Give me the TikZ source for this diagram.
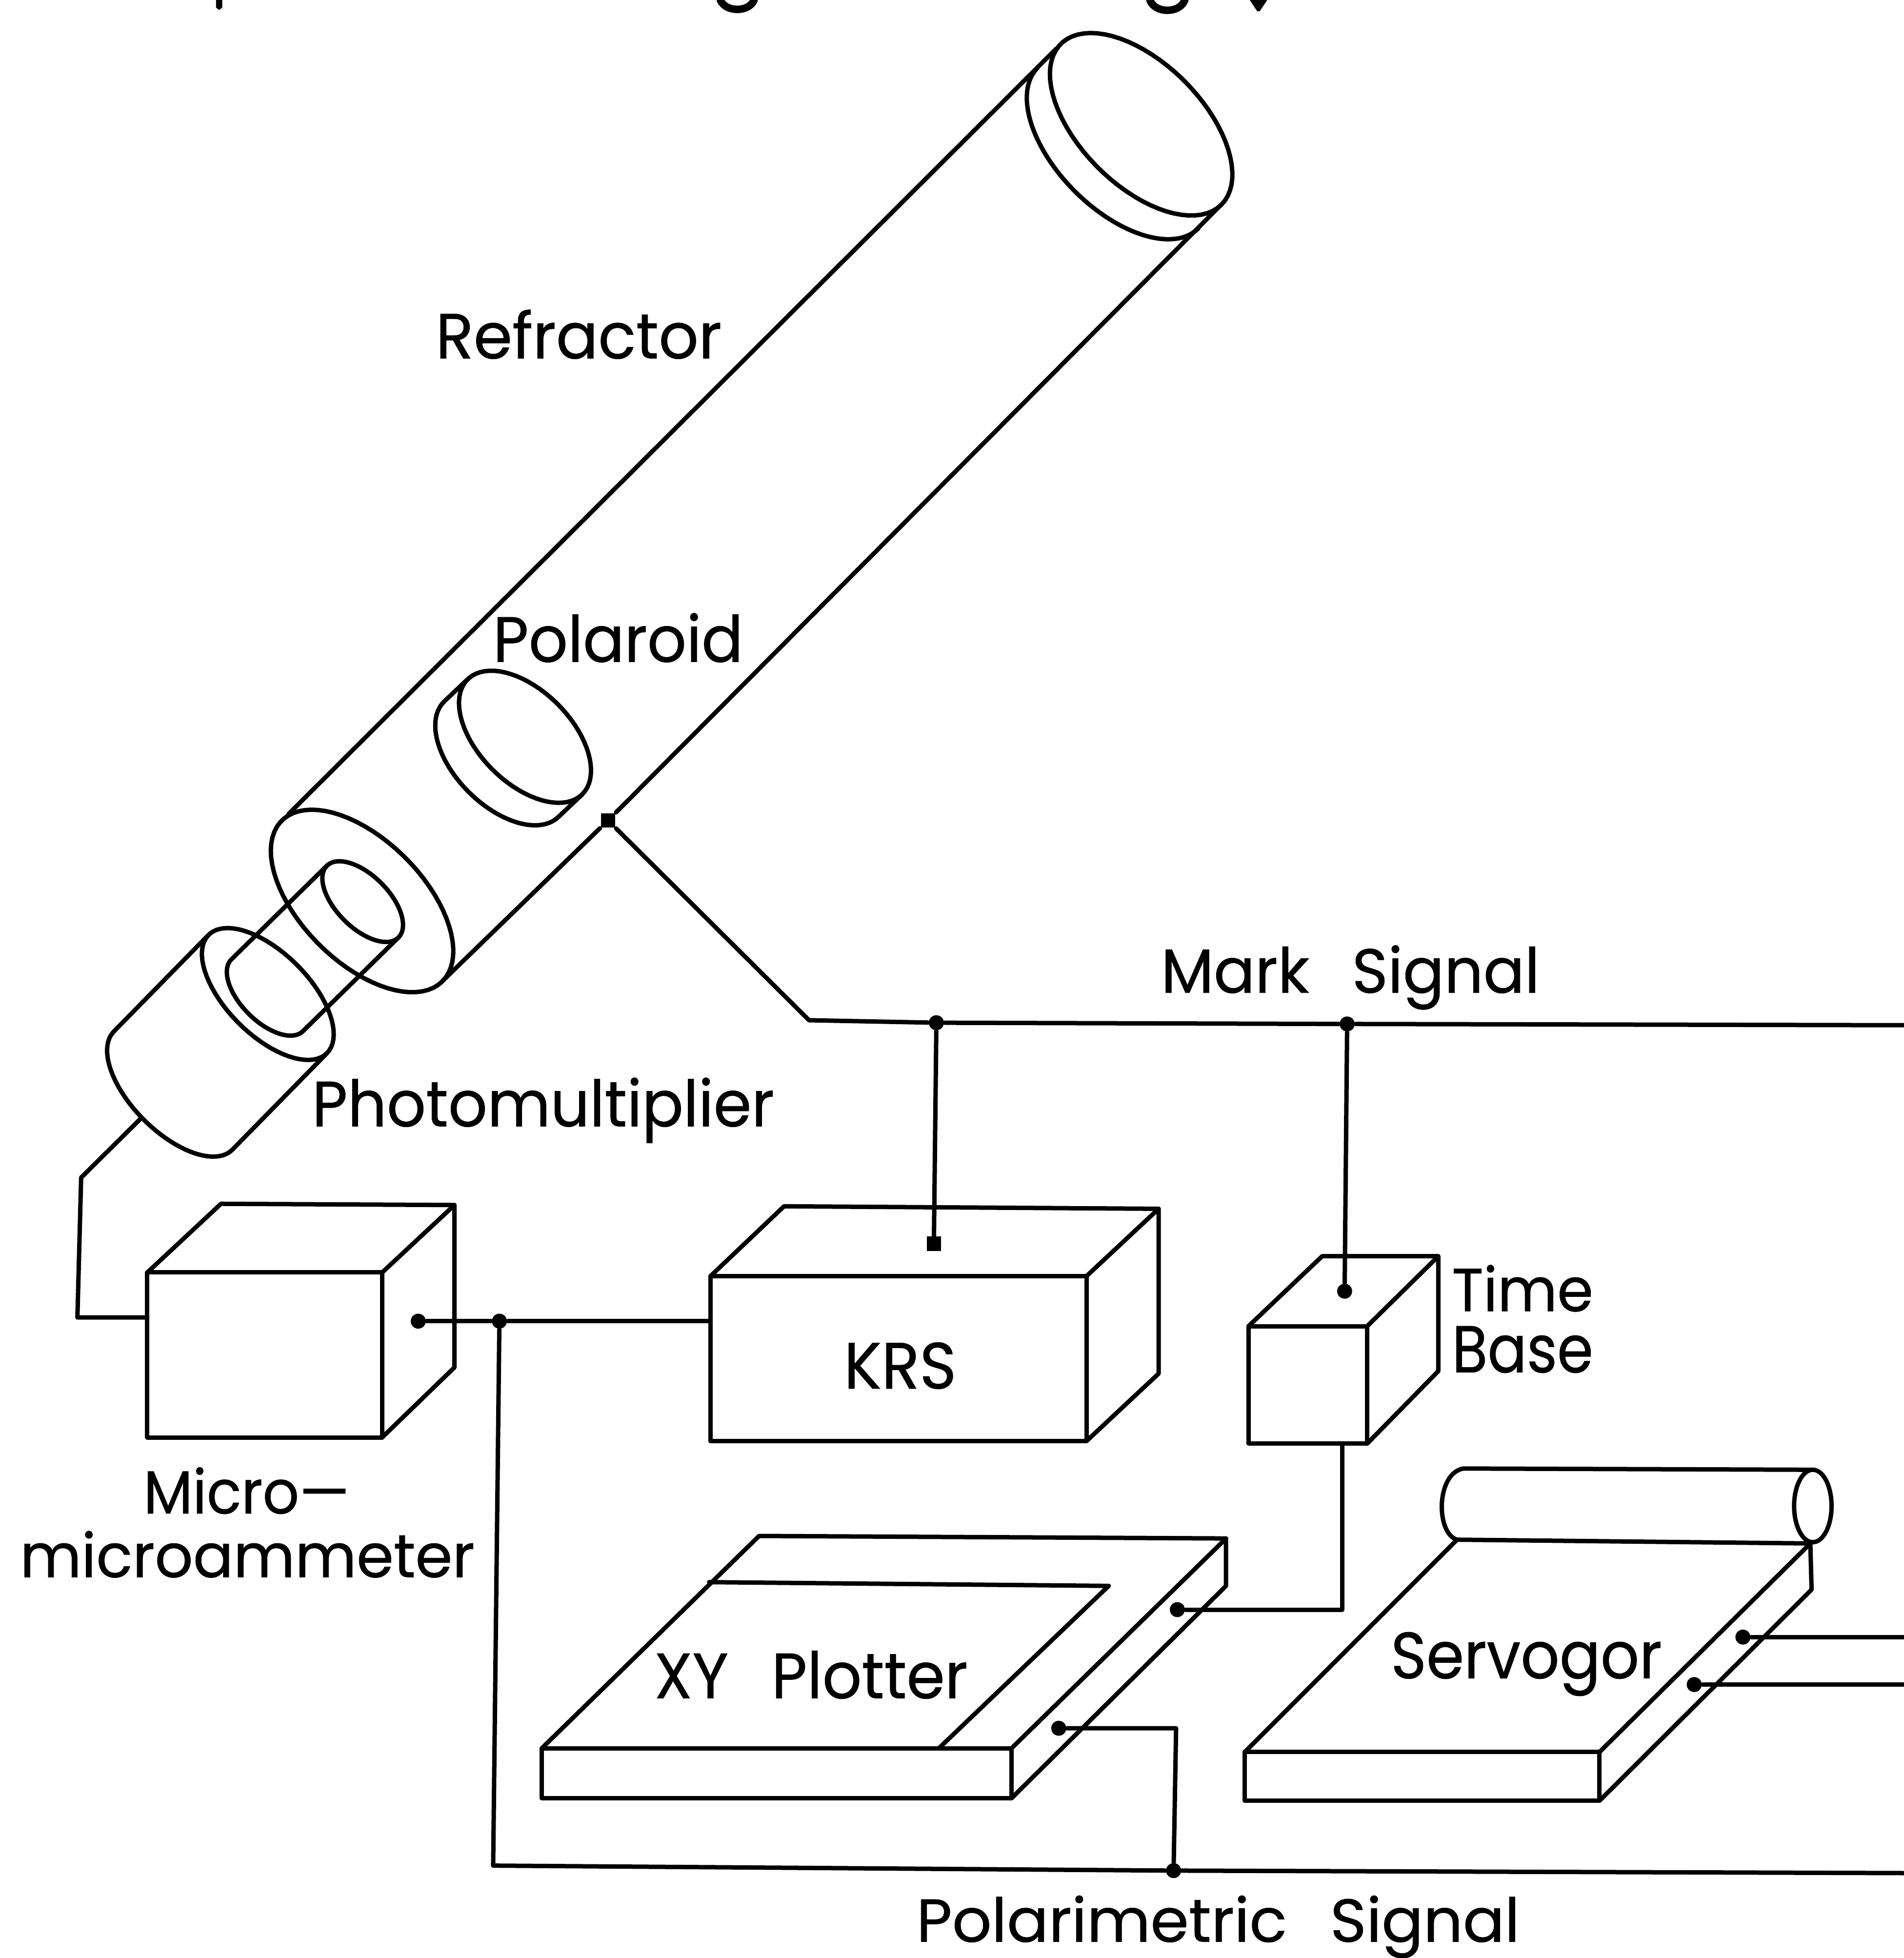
\documentclass[tikz,border=0pt]{standalone}
\usepackage{fontspec}
\setmainfont{Poppins}
\newfontfamily\labfont[FakeBold=0.6]{Poppins}
\usepackage{graphicx}
\tikzset{
  line/.style={line width=1pt,line join=round,line cap=round,black},
  facebox/.style={draw,line width=1pt,inner sep=0pt,outer sep=0pt,anchor=north west,line join=round},
  lab/.style={inner sep=0pt,outer sep=0pt,anchor=base west,black,font=\labfont},
  rounddot/.style={circle,fill=black,inner sep=0pt,minimum size=0.12cm},
  squaredot/.style={rectangle,fill=black,inner sep=0pt,minimum size=0.115cm},
}
\newcommand\ellarc[6]{\draw[line] plot[domain=#5:#6,samples=72,variable=\t] ({#1+.7071*(#3*cos(\t)+#4*sin(\t))},{#2+.7071*(#3*cos(\t)-#4*sin(\t))});}
\newcommand\lab[6]{\node[lab] (#1) at (#2,#3) {\resizebox{#4cm}{#5cm}{#6}};}
\begin{document}
\begin{tikzpicture}[x=0.01cm,y=-0.01cm]
\useasboundingbox (0,0) rectangle (1525,1568);
\clip (0,0) rectangle (1525,1568);
% cropped title remains
\draw[line,line width=1.7pt] (921,0) .. controls (925,11) and (945,11) .. (949,0);
\draw[line,line width=1.7pt] (577,0) .. controls (581,10) and (600,10) .. (604,0);
\fill (173,0) -- (178,0) -- (178,6) -- (175.5,8) -- (173,6) -- cycle;
\fill (1001,0) -- (1015,0) -- (1009,9) -- (1007,9) -- cycle;
% refractor tube
\ellarc{914}{99.5}{91}{49}{0}{360}
\ellarc{895.5}{118.5}{91}{49}{180}{360}
\ellarc{290}{721.5}{91}{49}{0}{360}
\coordinate (tubeAa) at (231,652);
\coordinate (tubeAb) at (846,39);
\coordinate (tubeBb) at (978,164);
\node[squaredot] (mark) at (487,657) {};
\coordinate (tubeBa) at (354,786);
\draw[line] (tubeAa) -- (tubeAb);
\draw[line] (tubeBa) -- (mark) -- (tubeBb);
% polaroid
\ellarc{420.5}{590}{65}{37}{0}{360}
\ellarc{401.5}{608}{65}{37}{180}{360}
\draw[line] (374.5,544) -- (355.5,562);
\draw[line] (466.5,636) -- (447.5,654);
% inner cylinder
\ellarc{290.5}{722}{40.6}{21}{0}{360}
\ellarc{214}{797}{40.6}{21}{180}{360}
\draw[line] (261.8,693.3) -- (185.3,768.3);
\draw[line] (319.2,750.7) -- (242.7,825.7);
% photomultiplier
\ellarc{214.5}{796}{67}{33}{0}{360}
\ellarc{138.6}{873.4}{67}{33}{180}{360}
\draw[line] (167.1,748.6) -- (91.2,826);
\draw[line] (261.9,843.4) -- (186,920.8);
% boxes
\node[facebox,minimum width=1.88cm,minimum height=1.32cm] (micro) at (118,1019) {};
\draw[line] (micro.north west) -- (177,964) -- (364,965) -- (364,1095) -- (micro.south east);
\draw[line] (micro.north east) -- (364,965);
\node[facebox,minimum width=3.01cm,minimum height=1.32cm] (krs) at (569,1022) {};
\draw[line] (krs.north west) -- (628,966) -- (928,968) -- (928,1100) -- (krs.south east);
\draw[line] (krs.north east) -- (928,968);
\node[facebox,minimum width=0.95cm,minimum height=0.94cm] (time) at (1000,1062) {};
\draw[line] (time.north west) -- (1059,1006) -- (1152,1006) -- (1152,1098) -- (time.south east);
\draw[line] (time.north east) -- (1152,1006);
% XY plotter
\node[facebox,minimum width=3.76cm,minimum height=0.40cm] (xy) at (434,1400) {};
\draw[line] (xy.north west) -- (608,1230) -- (982,1232) -- (982,1270) -- (xy.south east);
\draw[line] (xy.north east) -- (982,1232);
\draw[line] (568,1267) -- (888,1270) -- (752,1400);
% servogor
\node[facebox,minimum width=2.84cm,minimum height=0.39cm] (servo) at (997,1403) {};
\draw[line] (servo.north west) -- (1167,1233) -- (1450,1236) -- (1451,1273) -- (servo.south east);
\draw[line] (servo.north east) -- (1450,1236);
\draw[line] (1452,1177) -- (1172,1176) .. controls (1150,1180) and (1150,1228) .. (1167,1233);
\draw[line] (1452,1206) ellipse [x radius=15,y radius=29];
% dots
\node[rounddot] (mdot) at (335,1058) {};
\node[rounddot] (junA) at (400,1058) {};
\node[squaredot] (kdot) at (748,996) {};
\node[rounddot] (markA) at (750,819) {};
\node[rounddot] (markB) at (1079,820) {};
\node[rounddot] (tdot) at (1077,1034) {};
\node[rounddot] (xyA) at (943,1289) {};
\node[rounddot] (xyB) at (848,1384) {};
\node[rounddot] (junB) at (940,1498) {};
\node[rounddot] (sA) at (1396,1311) {};
\node[rounddot] (sB) at (1357,1349) {};
% connectors
\coordinate (pmOut) at (113.5,895);
\coordinate (rightM) at (1525,821);
\coordinate (rightP) at (1525,1500);
\coordinate (bendM) at (648,817);
\coordinate (bendA) at (65,943);
\coordinate (bendB) at (62,1055);
\coordinate (bendC) at (395,1494);
\coordinate (bendT) at (1075,1289);
\coordinate (bendX) at (942,1384);
\coordinate (rA) at (1525,1311);
\coordinate (rB) at (1525,1349);
\coordinate (tbOut) at (1075,1156);
\draw[line] (mark) -- (bendM) -- (markA) -- (markB) -- (rightM);
\draw[line] (markA) -- (kdot);
\draw[line] (markB) -- (tdot);
\draw[line] (pmOut) -- (bendA) -- (bendB) -- (bendB -| micro.west);
\draw[line] (mdot) -- (junA) -- (junA -| krs.west);
\draw[line] (junA) -- (bendC) -- (junB) -- (rightP);
\draw[line] (junB) -- (bendX) -- (xyB);
\draw[line] (tbOut) -- (bendT) -- (xyA);
\draw[line] (sA) -- (rA);
\draw[line] (sB) -- (rB);
% labels
\lab{refr}{349}{287}{2.29}{0.39}{Refractor}
\lab{pola}{395}{530}{2.00}{0.39}{Polaroid}
\lab{phot}{250}{902}{3.70}{0.39}{Photomultiplier}
\lab{markl}{930}{795}{3.03}{0.38}{Mark\hspace{0.7em}Signal}
\lab{tim}{1163}{1050}{1.13}{0.37}{Time}
\lab{bas}{1163}{1099}{1.13}{0.37}{Base}
\lab{krsl}{676}{1112}{0.90}{0.37}{KRS}
\lab{micA}{115}{1212}{1.65}{0.37}{Micro—}
\lab{micB}{16}{1263}{3.64}{0.37}{microammeter}
\lab{xyl}{524}{1360}{2.51}{0.38}{XY\hspace{0.7em}Plotter}
\lab{serv}{1114}{1344}{2.17}{0.37}{Servogor}
\lab{pols}{734}{1555}{4.83}{0.37}{Polarimetric\hspace{0.7em}Signal}
\end{tikzpicture}
\end{document}
